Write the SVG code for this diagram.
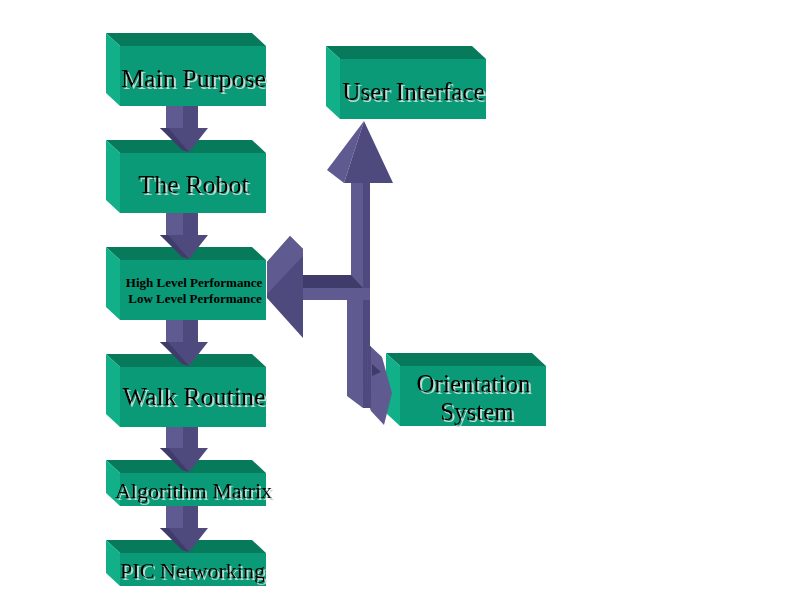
<svg xmlns="http://www.w3.org/2000/svg" width="800" height="600" viewBox="0 0 800 600">
<defs>
<filter id="tsh" x="-10%" y="-30%" width="120%" height="160%">
<feFlood flood-color="#BFD9D0" result="c"/>
<feComposite in="c" in2="SourceAlpha" operator="in" result="s"/>
<feOffset in="s" dx="1.5" dy="1.5" result="o"/>
<feMerge><feMergeNode in="o"/><feMergeNode in="SourceGraphic"/></feMerge>
</filter>
</defs>
<style>
.top{fill:#077A5C}
.side{fill:#12B089}
.front{fill:#0B9A77}
.t{font-family:"Liberation Serif","Times New Roman",serif;text-anchor:middle;fill:#000}
.s{filter:url(#tsh)}
.lt{fill:#5F5B91}
.dk{fill:#4E4A7E}
.bev{fill:#3F3B6A}
</style>
<rect width="800" height="600" fill="#fff"/>
<g id="main-purpose">
<polygon class="top" points="106,33 252,33 266,46 120,46"/>
<polygon class="side" points="106,33 120,46 120,106 106,93"/>
<rect class="front" x="120" y="46" width="146" height="60"/>
<text class="t s" x="193.5" y="87" font-size="26">Main Purpose</text>
</g>
<g id="the-robot">
<polygon class="top" points="106,140 252,140 266,153 120,153"/>
<polygon class="side" points="106,140 120,153 120,213 106,200"/>
<rect class="front" x="120" y="153" width="146" height="60"/>
<text class="t s" x="193.5" y="193" font-size="26">The Robot</text>
</g>
<g id="performance">
<polygon class="top" points="106,247 252,247 266,260 120,260"/>
<polygon class="side" points="106,247 120,260 120,320 106,307"/>
<rect class="front" x="120" y="260" width="146" height="60"/>
<text class="t" x="194" y="287" font-size="13" font-weight="bold">High Level Performance</text>
<text class="t" x="195" y="303" font-size="13" font-weight="bold">Low Level Performance</text>
</g>
<g id="walk-routine">
<polygon class="top" points="106,354 252,354 266,367 120,367"/>
<polygon class="side" points="106,354 120,367 120,427 106,414"/>
<rect class="front" x="120" y="367" width="146" height="60"/>
<text class="t s" x="194" y="405" font-size="26">Walk Routine</text>
</g>
<g id="algorithm-matrix">
<polygon class="top" points="106,460 252,460 266,473 120,473"/>
<polygon class="side" points="106,460 120,473 120,506 106,493"/>
<rect class="front" x="120" y="473" width="146" height="33"/>
<text class="t s" x="193.5" y="498" font-size="22">Algorithm Matrix</text>
</g>
<g id="pic-networking">
<polygon class="top" points="106,540 252,540 266,553 120,553"/>
<polygon class="side" points="106,540 120,553 120,586 106,573"/>
<rect class="front" x="120" y="553" width="146" height="33"/>
<text class="t s" x="192.5" y="578" font-size="22">PIC Networking</text>
</g>
<g id="user-interface">
<polygon class="top" points="326,46 472,46 486,59 340,59"/>
<polygon class="side" points="326,46 340,59 340,119 326,106"/>
<rect class="front" x="340" y="59" width="146" height="60"/>
<text class="t s" x="413.5" y="100" font-size="25">User Interface</text>
</g>
<g id="orientation-system">
<polygon class="top" points="386,353 532,353 546,366 400,366"/>
<polygon class="side" points="386,353 400,366 400,426 386,413"/>
<rect class="front" x="400" y="366" width="146" height="60"/>
<text class="t s" x="473.5" y="392" font-size="25">Orientation</text>
<text class="t s" x="477" y="420" font-size="25">System</text>
</g>
<g id="connectors">
<g id="arrow-mp-robot">
<rect class="lt" x="166" y="106" width="17" height="24"/>
<rect class="dk" x="183" y="106" width="15" height="24"/>
<polygon class="dk" points="160,128 208,128 189,152"/>
<polygon class="bev" points="160,128 168,128 189,152 182,150"/>
</g>
<g id="arrow-robot-perf">
<rect class="lt" x="166" y="213" width="17" height="24"/>
<rect class="dk" x="183" y="213" width="15" height="24"/>
<polygon class="dk" points="160,235 208,235 189,259"/>
<polygon class="bev" points="160,235 168,235 189,259 182,257"/>
</g>
<g id="arrow-perf-walk">
<rect class="lt" x="166" y="320" width="17" height="24"/>
<rect class="dk" x="183" y="320" width="15" height="24"/>
<polygon class="dk" points="160,342 208,342 189,366"/>
<polygon class="bev" points="160,342 168,342 189,366 182,364"/>
</g>
<g id="arrow-walk-alg">
<rect class="lt" x="166" y="427" width="17" height="23"/>
<rect class="dk" x="183" y="427" width="15" height="23"/>
<polygon class="dk" points="160,448 208,448 189,472"/>
<polygon class="bev" points="160,448 168,448 189,472 182,470"/>
</g>
<g id="arrow-alg-pic">
<rect class="lt" x="166" y="506" width="17" height="24"/>
<rect class="dk" x="183" y="506" width="15" height="24"/>
<polygon class="dk" points="160,528 208,528 189,552"/>
<polygon class="bev" points="160,528 168,528 189,552 182,550"/>
</g>
<g id="branch-connector">
<rect class="lt" x="351" y="180" width="12" height="110"/>
<rect class="dk" x="363" y="180" width="7" height="228"/>
<polygon class="lt" points="364,121 327,170 344,183"/>
<polygon class="dk" points="364,121 344,183 393,183"/>
<polygon class="lt" points="303,288 370,288 370,300 303,300"/>
<polygon class="bev" points="303,275 351,275 363,288 303,288"/>
<polygon class="lt" points="347,300 363,300 363,408 347,396"/>
<polygon class="dk" points="290,236 303,249 303,338 267,298 267,262"/>
<polygon class="lt" points="290,236 303,249 303,256 267,294 267,262"/>
<polygon class="lt" points="367,343 382,357 392,393 384,425 371,411 368,398"/>
<polygon class="dk" points="367,343 371,347 371,411 368,398"/>
<polygon class="bev" points="372,364 381,372 372,376"/>
</g>
</g>
</svg>
